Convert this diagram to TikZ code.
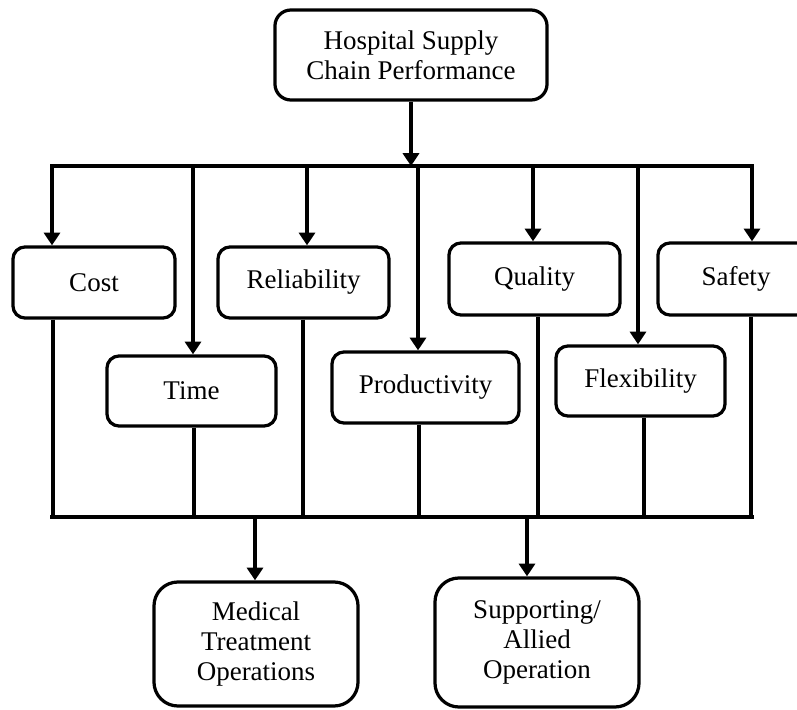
\documentclass[tikz,border=0pt]{standalone}
\usepackage{fontspec}
\setmainfont{Liberation Serif}
\usetikzlibrary{arrows.meta}

\tikzset{
  box/.style={draw, line width=2.3pt, rounded corners=0.3cm, align=center,
    font=\fontsize{19.2}{21.5}\selectfont},
  bigbox/.style={box, rounded corners=0.6cm},
  link/.style={draw, line width=2.4pt},
  arr/.style={link, -{Triangle[length=0.32cm, width=0.4cm]}}
}

\begin{document}
\begin{tikzpicture}[x=0.025cm, y=-0.025cm]
  \useasboundingbox (0,0) rectangle (797,710);

  \node[box, minimum width=6.8cm, minimum height=2.25cm, rounded corners=0.4cm]
    (top) at (411,55) {Hospital Supply\\Chain Performance};

  % measures
  \node[box, minimum width=4.05cm, minimum height=1.775cm] (cost) at (94,282.5) {Cost};
  \node[box, minimum width=4.225cm, minimum height=1.75cm] (time) at (191.5,391) {Time};
  \node[box, minimum width=4.275cm, minimum height=1.775cm] (rel) at (303.5,282.5) {Reliability};
  \node[box, minimum width=4.675cm, minimum height=1.775cm] (prod) at (425.5,387.5) {Productivity};
  \node[box, minimum width=4.275cm, minimum height=1.8cm] (qual) at (534.5,279) {Quality};
  \node[box, minimum width=4.225cm, minimum height=1.75cm] (flex) at (640.5,381) {Flexibility};
  \node[box, minimum width=3.9cm, minimum height=1.8cm] (safe) at (736,279) {Safety};

  % operations
  \node[bigbox, minimum width=5.1cm, minimum height=3.1cm] (med) at (256,644)
    {Medical\\Treatment\\Operations};
  \node[bigbox, minimum width=5.1cm, minimum height=3.225cm] (sup) at (537,642.5)
    {Supporting/\\Allied\\Operation};

  \coordinate (tl) at (52,166);
  \coordinate (tr) at (752,166);
  \coordinate (bl) at (52,517);
  \coordinate (br) at (752,517);

  \path[arr] (top.south) -- (top.south |- tl);
  \path[link, line cap=rect] (tl) -- (tr);
  \path[link, line cap=rect] (bl) -- (br);

  \foreach \n/\a/\b in {cost/52/53, time/193/194, rel/307/303, prod/418/419,
                        qual/533/538, flex/638/644, safe/752/751} {
    \path[arr] (\a,0 |- tl) -- (\a,0 |- \n.north);
    \path[link] (\b,0 |- \n.south) -- (\b,0 |- bl);
  }

  \path[arr] (255,0 |- bl) -- (255,0 |- med.north);
  \path[arr] (527,0 |- bl) -- (527,0 |- sup.north);
\end{tikzpicture}
\end{document}
